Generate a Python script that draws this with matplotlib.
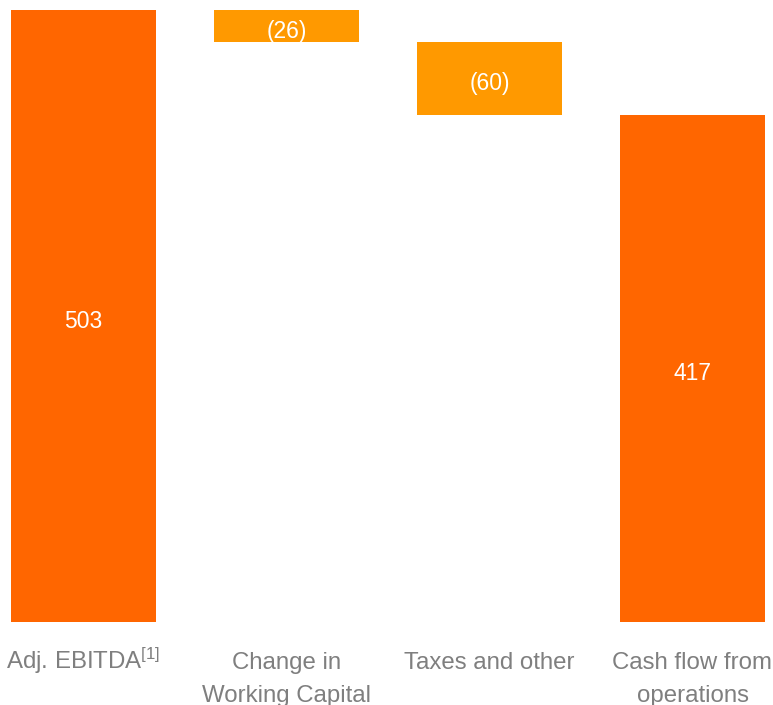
import numpy as np
import matplotlib.pyplot as plt

plt.rcParams['font.family'] = ['Liberation Sans', 'DejaVu Sans']
plt.rcParams['mathtext.fontset'] = 'custom'
plt.rcParams['mathtext.rm'] = 'Liberation Sans'
plt.rcParams['mathtext.it'] = 'Liberation Sans'

# cash flow bridge: start, movements, end
categories = ["Adj. EBITDA$^{\\mathrm{[1]}}$", "Change in\nWorking Capital",
              "Taxes and other", "Cash flow from\noperations"]
start_value = 503
changes = [-26, -60]
end_value = 417

DARK = "#FF6600"
LIGHT = "#FF9900"
GREY = "#7F7F7F"

# build bar bottoms / heights for the waterfall
levels = start_value + np.cumsum([0] + changes)
bottoms = [0]
heights = [start_value]
labels = [str(start_value)]
colors = [DARK]
for i, c in enumerate(changes):
    bottoms.append(levels[i + 1])
    heights.append(-c)
    labels.append(f"({-c})")
    colors.append(LIGHT)
bottoms.append(0)
heights.append(end_value)
labels.append(str(end_value))
colors.append(DARK)

fig = plt.figure(figsize=(7.73, 7.05), dpi=100)
ax = fig.add_axes([0, 83 / 705, 1, 622 / 705])

x = np.arange(len(categories))
ax.bar(x, heights, bottom=bottoms, width=0.714, color=colors, linewidth=0)

for xi, b, h, lab in zip(x, bottoms, heights, labels):
    ax.text(xi, b + h / 2 - 4.5, lab, ha='center', va='center', color='white', fontsize=16.5)

# category labels, one line at a time so baselines line up
px = 612 / 503
for xi, cat in zip(x, categories):
    for k, line in enumerate(cat.split("\n")):
        ax.text(xi, -(47 + 33 * k) / px, line, ha='center', va='baseline',
                color=GREY, fontsize=17.3, clip_on=False)

ax.set_xlim(-83.5 / 203, (773 - 83.5) / 203)
ax.set_ylim(0, 622 / px)
ax.axis('off')

fig.savefig("out.png", dpi=100)
